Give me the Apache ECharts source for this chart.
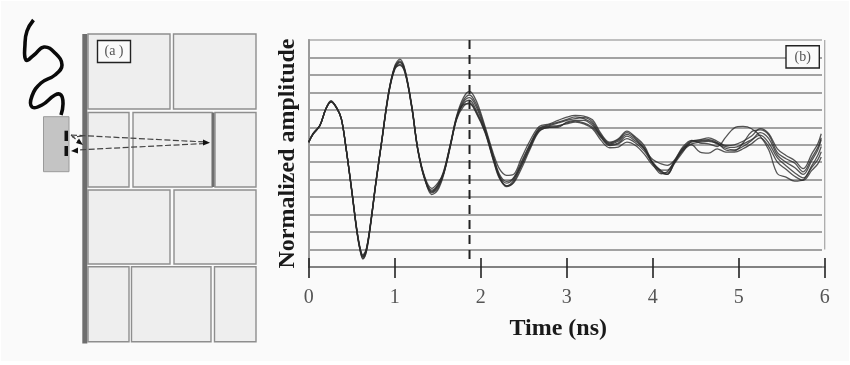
<!DOCTYPE html>
<html><head><meta charset="utf-8">
<style>html,body{margin:0;padding:0;background:#fff}#bg{position:absolute;left:1px;top:1px;width:848px;height:360px;background:#fafafa}#c{position:absolute;left:0;top:0;width:850px;height:365px}</style>
<script src="https://cdn.jsdelivr.net/npm/echarts@6/dist/echarts.min.js"></script></head>
<body><div id="bg"></div><div id="c"></div>
<script>
const tickLabels=['0','1','2','3','4','5','6'];
const markerTime=1.87;
const times=[0,.05,.13,.2,.26,.33,.38,.43,.5,.56,.6,.63,.67,.72,.78,.85,.93,1,1.06,1.12,1.2,1.27,1.35,1.43,1.5,1.57,1.65,1.72,1.8,1.87,1.95,2.05,2.15,2.22,2.3,2.38,2.47,2.57,2.68,2.8,2.9,3,3.1,3.2,3.3,3.4,3.5,3.6,3.7,3.8,3.9,4,4.1,4.17,4.25,4.35,4.45,4.55,4.65,4.75,4.85,4.95,5.05,5.15,5.25,5.35,5.45,5.55,5.65,5.75,5.85,5.92,5.96];
const trace1=[.15,.63,1.1,2.06,2.5,2.08,1.5,-.04,-2.6,-4.9,-6.0,-6.4,-6.05,-4.5,-2.2,.25,3,4.5,4.9,4.3,2.2,-.3,-1.95,-2.85,-2.6,-1.7,.05,1.65,2.7,3.05,2.5,1.05,-.55,-1.4,-1.75,-1.7,-.8,.2,1.05,1.2,1.4,1.58,1.68,1.64,1.43,.63,.15,.34,.78,.44,-.04,-1.0,-1.5,-1.7,-1.1,-.42,.2,.29,.4,.2,-.04,0,.2,.5,.92,.63,-.23,-.61,-.9,-1.37,-.52,.06,.63];
const trace2=[.15,.6,1.1,2.04,2.46,2.1,1.45,-.06,-2.62,-4.95,-6.1,-6.5,-6.1,-4.55,-2.25,.2,2.9,4.35,4.7,4.2,2.1,-.35,-2.0,-2.7,-2.4,-1.55,.1,1.6,2.55,2.85,2.3,.95,-.7,-1.7,-2.1,-1.9,-1.0,0,.95,1.15,1.3,1.45,1.6,1.5,1.2,.45,0,.1,.5,.2,-.2,-1.1,-1.66,-1.55,-1.0,-.3,.15,.2,.25,.05,-.2,-.3,-.1,.25,.7,.35,-.6,-1.0,-1.3,-1.7,-.9,-.3,.3];
const trace3=[.16,.65,1.12,2.08,2.52,2.06,1.48,-.02,-2.55,-4.85,-5.95,-6.3,-5.95,-4.45,-2.15,.3,3.05,4.45,4.8,4.25,2.15,-.25,-1.85,-2.5,-2.2,-1.6,0,1.55,2.45,2.7,2.15,.85,-.75,-1.85,-2.35,-2.05,-1.1,-.05,.85,1.05,1.1,1.2,1.3,1.2,.92,.25,-.17,-.13,.15,-.04,-.52,-1.18,-1.6,-1.7,-1.05,-.35,0,-.42,-.48,-.23,-.42,-.42,-.23,.06,.4,-.1,-1.0,-1.4,-1.8,-2.04,-1.47,-1.09,-.7];
const trace4=[.14,.6,1.08,2.05,2.44,2.04,1.5,-.05,-2.65,-5.0,-6.1,-6.55,-6.15,-4.6,-2.25,.2,2.95,4.3,4.6,4.15,2.1,-.35,-1.95,-2.65,-2.35,-1.65,-.05,1.5,2.35,2.55,1.95,.8,-.9,-1.9,-2.4,-2.15,-1.25,-.2,.8,1.0,1.05,1.25,1.35,1.25,1.0,.4,-.05,.05,.35,.1,-.35,-1.05,-1.45,-1.45,-.95,-.2,.05,.15,.2,.1,-.1,-.15,.05,.3,.55,.1,-.75,-1.2,-1.6,-1.9,-1.2,-.6,-.1];
const trace5=[.15,.62,1.11,2.07,2.48,2.07,1.47,-.03,-2.58,-4.9,-6.05,-6.42,-6.0,-4.5,-2.2,.25,3,4.4,4.75,4.2,2.15,-.28,-1.9,-2.6,-2.3,-1.5,.08,1.5,2.3,2.35,1.8,.7,-.95,-1.95,-2.35,-2.2,-1.4,-.3,.75,1.0,1.0,1.3,1.4,1.4,1.1,.5,.05,.2,.6,.3,-.25,-.85,-1.1,-1.18,-.9,-.13,.25,.1,.05,-.1,.44,.97,1.05,.92,.5,-.3,-1.66,-1.85,-2.08,-2.0,-1.3,-.85,-.4];
const trace6=[.15,.61,1.1,2.06,2.47,2.05,1.46,-.05,-2.6,-4.92,-6.02,-6.35,-6.0,-4.48,-2.22,.22,2.92,4.38,4.55,4.1,2.05,-.32,-1.98,-2.75,-2.5,-1.62,.02,1.45,2.2,2.4,1.85,.75,-.85,-1.8,-2.2,-1.95,-1.2,-.15,.9,1.1,1.25,1.4,1.5,1.55,1.3,.55,.1,.28,.7,.38,-.15,-1.05,-1.55,-1.62,-1.0,-.25,.22,.25,.3,.12,-.3,-.35,.1,.75,.85,.55,-.45,-.8,-1.05,-1.55,-.75,-.15,.4];
const traces=[trace1,trace2,trace3,trace4,trace5,trace6];

const serif='"Liberation Serif","Times New Roman",serif';
const brickFill='#eeeeee',brickEdge='#8e8e8e';
const brick=(x0,y0,x1,y1)=>({type:'rect',z:1,shape:{x:x0,y:y0,width:x1-x0,height:y1-y0},style:{fill:brickFill,stroke:brickEdge,lineWidth:1.4}});
const solid=(x0,y0,x1,y1,fill)=>({type:'rect',z:2,shape:{x:x0,y:y0,width:x1-x0,height:y1-y0},style:{fill}});
const dash=(x0,y0,x1,y1)=>({type:'line',z:3,shape:{x1:x0,y1:y0,x2:x1,y2:y1},style:{stroke:'#444',lineWidth:1.2,lineDash:[6,2.5]}});
const head=(pts)=>({type:'polygon',z:4,shape:{points:pts},style:{fill:'#111'}});
const labelBox=(x0,y0,x1,y1,t)=>([
 {type:'rect',z:20,shape:{x:x0,y:y0,width:x1-x0,height:y1-y0},style:{fill:'#fafafa',stroke:'#222',lineWidth:1.4}},
 {type:'text',z:21,x:(x0+x1)/2,y:(y0+y1)/2,style:{text:t,font:'14px '+serif,fill:'#555',align:'center',verticalAlign:'middle'}}
]);
const schematic=[
 brick(88,34,170,109),brick(173.5,34,256,109),
 brick(88,112.5,129,187),brick(133,112.5,212,187),brick(215,112.5,256,187),
 brick(88,190,170,264),brick(174,190,256,264),
 brick(88,266.7,129,341.7),brick(131.5,266.7,211,341.7),brick(214.5,266.7,256,341.7),
 solid(82.3,34,87.3,343.5,'#6e6e6e'),solid(212,112.5,214.5,187,'#6e6e6e'),
 {type:'rect',z:2,shape:{x:43.5,y:116.7,width:25.5,height:55},style:{fill:'#c4c4c4',stroke:'#9a9a9a',lineWidth:1}},
 solid(64.5,130.7,68,141,'#111'),solid(64.5,146,68,156,'#111'),
 {type:'polyline',z:3,shape:{smooth:0.45,points:[[33.5,20],[27,31],[25,44],[26,60],[34,55],[44,47],[55,53],[62,65],[55,75],[41,83],[32,96],[32,107],[42,105],[55,95],[61,95],[63,104],[61,115]]},style:{stroke:'#0a0a0a',lineWidth:3.6,fill:null}},
 dash(71,135,205,142),dash(205,143.5,76,150),dash(71,135,79,142),dash(83,136,72,137),
 head([[210,142.7],[203,139.5],[203,145.5]]),
 head([[71,151],[78,147.5],[78,153.5]]),
 head([[83,145],[76,143],[79,138.5]]),
 ...labelBox(97.5,40.5,130.5,62.5,'(a )'),
 ...labelBox(786,45.7,819.3,68,'(b)')
];
const lineColors=['#7a7a7a','#858585','#858585','#858585','#858585','#858585','#858585','#858585','#858585','#858585','#858585','#858585','#858585','#ababab'];
const G={left:308.7,width:516,top:40,height:227};
const option={
 animation:false,backgroundColor:'transparent',
 grid:[G,{left:308,width:514,top:40,height:227}],
 graphic:schematic,
 xAxis:[
  {gridIndex:0,type:'value',min:0,max:6,interval:1,name:'Time (ns)',nameLocation:'middle',nameGap:50,
   nameTextStyle:{fontFamily:serif,fontWeight:'bold',fontSize:24,color:'#1a1a1a',padding:[0,17,0,0]},
   axisLine:{show:true,onZero:false,lineStyle:{color:'#7a7a7a',width:1.5}},
   axisTick:{show:true,length:11,lineStyle:{color:'#222',width:1.6}},splitLine:{show:false},
   axisLabel:{margin:21,fontFamily:serif,fontSize:20,color:'#555',formatter:v=>tickLabels[v]}},
  {gridIndex:0,type:'value',min:0,max:6,interval:1,position:'bottom',
   axisLine:{show:false,onZero:false},axisTick:{show:true,inside:true,length:9,lineStyle:{color:'#222',width:1.6}},
   axisLabel:{show:false},splitLine:{show:false}},
  {gridIndex:1,type:'value',min:0,max:6,show:false}
 ],
 yAxis:[
  {gridIndex:0,type:'value',min:-7,max:6,interval:1,name:'Normalized amplitude',nameLocation:'middle',nameGap:9,nameRotate:90,
   nameTextStyle:{fontFamily:serif,fontWeight:'bold',fontSize:24,color:'#1a1a1a'},
   axisLine:{show:true,onZero:false,lineStyle:{color:'#9a9a9a',width:2}},axisTick:{show:false},axisLabel:{show:false},splitLine:{show:false}},
  {gridIndex:1,type:'value',min:-7,max:6,interval:1,
   axisLine:{show:false},axisTick:{show:false},axisLabel:{show:false},
   splitLine:{show:true,lineStyle:{color:lineColors,width:1.5}}}
 ],
 series:[
  {type:'line',xAxisIndex:0,yAxisIndex:0,silent:true,symbol:'none',z:3,lineStyle:{color:'#ababab',width:1.3},data:[[6,6],[6,-6]]},
  {type:'line',xAxisIndex:0,yAxisIndex:0,silent:true,symbol:'none',z:3,lineStyle:{color:'#222',width:2,type:[9,6]},data:[[markerTime,6],[markerTime,-6.77]]},
  ...traces.map(tr=>({type:'line',xAxisIndex:0,yAxisIndex:0,silent:true,symbol:'none',smooth:0.35,z:4,
    lineStyle:{color:'#2a2a2a',width:1.3,opacity:.8},data:times.map((t,i)=>[t,tr[i]])}))
 ]
};
echarts.init(document.getElementById('c')).setOption(option);
</script></body></html>
